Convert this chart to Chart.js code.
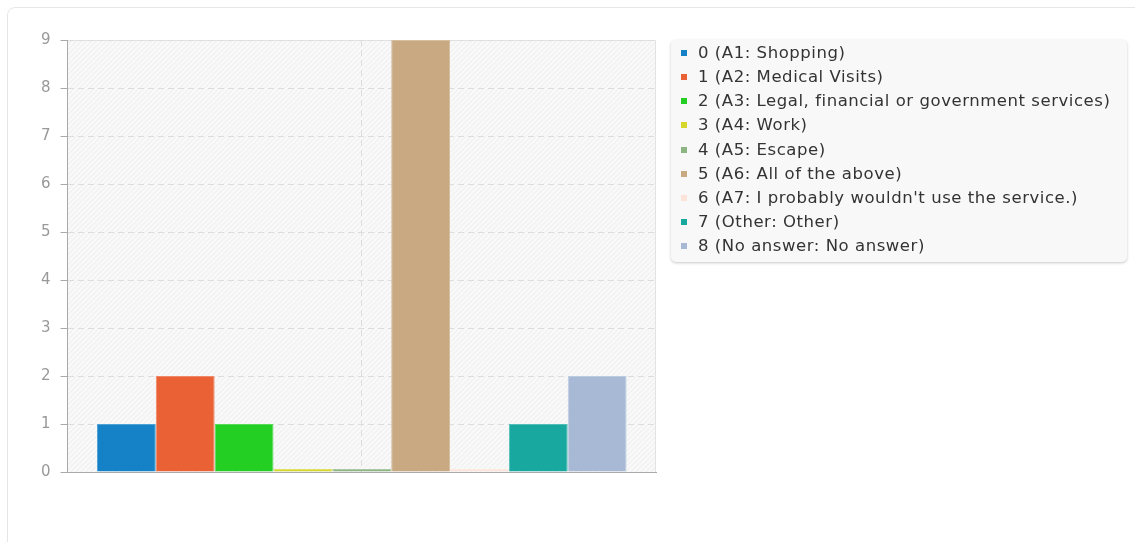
<!DOCTYPE html>
<html>
<head>
<meta charset="utf-8">
<script src="https://cdn.jsdelivr.net/npm/chart.js@4.4.1/dist/chart.umd.min.js"></script>
<style>
  html, body { margin: 0; padding: 0; background: #fff; width: 1135px; height: 542px; overflow: hidden; font-family: "DejaVu Sans", sans-serif; }
  #card { position: absolute; left: 7px; top: 7px; width: 1150px; height: 560px; border: 1px solid #e6e6e6; border-radius: 8px; box-sizing: border-box; }
  #wrap { position: absolute; left: 0; top: 0; width: 1135px; height: 542px; }
  #legend { position: absolute; left: 671px; top: 40px; width: 456px; height: 222px; background: #f8f8f8; border-radius: 5px; box-shadow: 0 1px 3px rgba(0,0,0,0.22); box-sizing: border-box; }
  .item { position: absolute; left: 0; height: 24px; line-height: 24px; font-size: 16.5px; letter-spacing: 0.55px; color: #333; white-space: nowrap; }
  .sw { position: absolute; left: 10px; top: 9px; width: 6px; height: 6px; }
  .tx { position: absolute; left: 27px; top: 0; }
</style>
</head>
<body>
<div id="card"></div>
<div id="wrap"><canvas id="c" width="1135" height="542"></canvas></div>
<div id="legend"></div>
<script>
const categories = [""];
const seriesLabels = [
  "0 (A1: Shopping)",
  "1 (A2: Medical Visits)",
  "2 (A3: Legal, financial or government services)",
  "3 (A4: Work)",
  "4 (A5: Escape)",
  "5 (A6: All of the above)",
  "6 (A7: I probably wouldn't use the service.)",
  "7 (Other: Other)",
  "8 (No answer: No answer)"
];
const seriesValues = [1, 2, 1, 0, 0, 9, 0, 1, 2];
const seriesColors = ["#1582c8", "#e96134", "#22cf22", "#d6d62c", "#8db582", "#c8a981", "#fbe3da", "#19a8a0", "#a7b9d5"];
const yTicks = [0, 1, 2, 3, 4, 5, 6, 7, 8, 9];

function lighten(hex, f) {
  const n = parseInt(hex.slice(1), 16);
  const r = (n >> 16) & 255, g = (n >> 8) & 255, b = n & 255;
  const m = v => Math.round(v + (255 - v) * f);
  return `rgb(${m(r)},${m(g)},${m(b)})`;
}

const bgPlugin = {
  id: 'hatchBg',
  beforeDraw(chart) {
    const {ctx, chartArea: a} = chart;
    ctx.save();
    ctx.fillStyle = '#f9f9f9';
    ctx.fillRect(a.left, a.top, a.right - a.left, a.bottom - a.top);
    ctx.beginPath();
    ctx.rect(a.left, a.top, a.right - a.left, a.bottom - a.top);
    ctx.clip();
    ctx.strokeStyle = '#ebebeb';
    ctx.lineWidth = 1;
    const h = a.bottom - a.top;
    for (let x = a.left - h; x < a.right + h; x += 5) {
      ctx.beginPath();
      ctx.moveTo(x, a.bottom);
      ctx.lineTo(x + h, a.top);
      ctx.stroke();
    }
    ctx.restore();
    ctx.save();
    ctx.strokeStyle = '#e3e3e3';
    ctx.lineWidth = 1;
    ctx.beginPath();
    ctx.moveTo(a.left, a.top + 0.5);
    ctx.lineTo(a.right - 0.5, a.top + 0.5);
    ctx.lineTo(a.right - 0.5, a.bottom);
    ctx.stroke();
    ctx.restore();
  }
};

const datasets = seriesLabels.map((lab, i) => ({
  label: lab,
  data: [seriesValues[i]],
  backgroundColor: seriesColors[i],
  borderColor: lighten(seriesColors[i], 0.25),
  borderWidth: 1,
  minBarLength: 3,
  barPercentage: 1.0,
  categoryPercentage: 0.9
}));

new Chart(document.getElementById('c'), {
  type: 'bar',
  data: { labels: categories, datasets },
  options: {
    responsive: false,
    animation: false,
    layout: { padding: { left: 31, top: 40, right: 479, bottom: 70 } },
    plugins: { legend: { display: false }, tooltip: { enabled: false } },
    scales: {
      x: {
        ticks: { display: false },
        grid: { color: '#dddddd', drawTicks: false, offset: false },
        border: { color: '#aaaaaa', width: 1, dash: [6, 4] }
      },
      y: {
        min: 0, max: 9,
        afterBuildTicks: s => { s.ticks = yTicks.map(v => ({ value: v })); },
        ticks: { color: '#999', font: { family: 'DejaVu Sans', size: 15 }, padding: 10 },
        grid: { color: '#dddddd', tickColor: '#aaaaaa', tickLength: 7 },
        border: { color: '#aaaaaa', width: 1, dash: [6, 4] }
      }
    }
  },
  plugins: [bgPlugin]
});

const lg = document.getElementById('legend');
seriesLabels.forEach((lab, i) => {
  const d = document.createElement('div');
  d.className = 'item';
  d.style.top = (1 + i * 24.15) + 'px';
  const sw = document.createElement('span');
  sw.className = 'sw';
  sw.style.background = seriesColors[i];
  const tx = document.createElement('span');
  tx.className = 'tx';
  tx.textContent = lab;
  d.appendChild(sw); d.appendChild(tx);
  lg.appendChild(d);
});
</script>
</body>
</html>
